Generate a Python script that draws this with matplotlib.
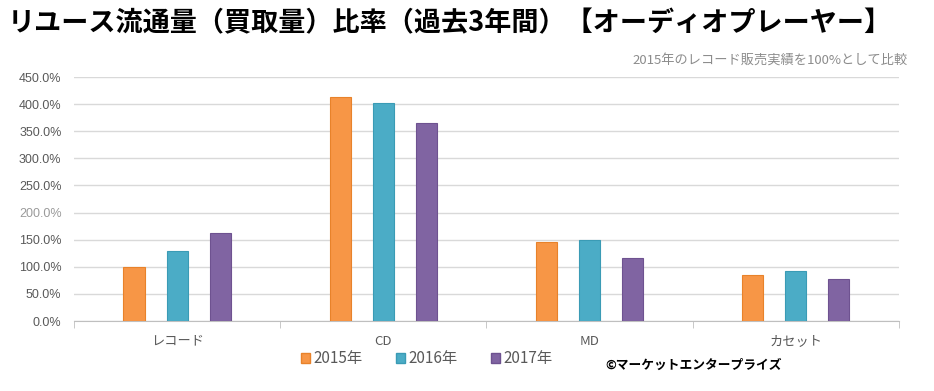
import matplotlib
matplotlib.use("Agg")
import matplotlib.pyplot as plt
import matplotlib.patches as mpatches
import numpy as np
from matplotlib.ticker import MultipleLocator, FuncFormatter

plt.rcParams['font.family'] = ['Noto Sans CJK JP', 'DejaVu Sans']

# ── data ────────────────────────────────────────────────────────────────────
categories = ["レコード", "CD", "MD", "カセット"]
years = ["2015年", "2016年", "2017年"]
vals_2015 = [99.5, 414, 146, 84]
vals_2016 = [128.5, 403, 149, 91.5]
vals_2017 = [162.5, 365, 117, 77]

colors = ["#F79646", "#4BACC6", "#8064A2"]
edges = ["#E8822A", "#3A9BB5", "#6E5290"]

# ── figure ──────────────────────────────────────────────────────────────────
fig = plt.figure(figsize=(9.34, 3.91), dpi=100)
ax = fig.add_axes([0.0792, 0.179, 0.8833, 0.624])

x = np.arange(len(categories))
bar_w = 0.102
step = 0.209
for i, (vals, c, ec, lab) in enumerate(zip([vals_2015, vals_2016, vals_2017],
                                           colors, edges, years)):
    ax.bar(x + (i - 1) * step, vals, bar_w, color=c, edgecolor=ec,
           linewidth=0.8, label=lab, zorder=3)

ax.set_xlim(-0.5, len(categories) - 0.5)
ax.set_ylim(0, 450)
ax.yaxis.set_major_locator(MultipleLocator(50))
ax.yaxis.set_major_formatter(FuncFormatter(lambda v, p: f"{v:.1f}%"))
ax.grid(axis="y", color="#D9D9D9", linewidth=1, zorder=0)
ax.tick_params(axis="y", length=0, labelsize=9, labelcolor="#595959", pad=9)
for t in ax.get_yticklabels():
    t.set_family(["Liberation Sans", "DejaVu Sans"])

ax.set_xticks(x)
ax.set_xticklabels(categories, fontsize=9.5, color="#595959")
ax.tick_params(axis="x", which="major", length=0, pad=10)
ax.set_xticks(np.arange(-0.5, len(categories)), minor=True)
ax.tick_params(axis="x", which="minor", length=5, color="#BFBFBF")

for s in ["top", "right", "left"]:
    ax.spines[s].set_visible(False)
ax.spines["bottom"].set_color("#BFBFBF")

# 200% label is drawn lighter in the original
for t in ax.get_yticklabels():
    if t.get_text().startswith("200"):
        t.set_color("#9A9A9A")

# ── texts ───────────────────────────────────────────────────────────────────
fig.text(0.008, 0.94, "リユース流通量（買取量）比率（過去3年間）【オーディオプレーヤー】",
         fontsize=19.5, fontweight="bold", color="black", va="center", ha="left")
fig.text(0.972, 0.845, "2015年のレコード販売実績を100%として比較",
         fontsize=9.5, color="#8C8C8C", va="center", ha="right")
fig.text(0.648, 0.066, "©マーケットエンタープライズ",
         fontsize=9.2, fontweight="bold", color="black", va="center", ha="left")

handles = [mpatches.Patch(facecolor=c, edgecolor=ec, label=lab)
           for c, ec, lab in zip(colors, edges, years)]
fig.legend(handles=handles, loc="center", bbox_to_anchor=(0.457, 0.083),
           ncol=3, frameon=False, fontsize=11, labelcolor="#595959",
           handlelength=0.6, handleheight=0.6, handletextpad=0.2,
           columnspacing=2.2)

fig.savefig("out.png", dpi=100)
